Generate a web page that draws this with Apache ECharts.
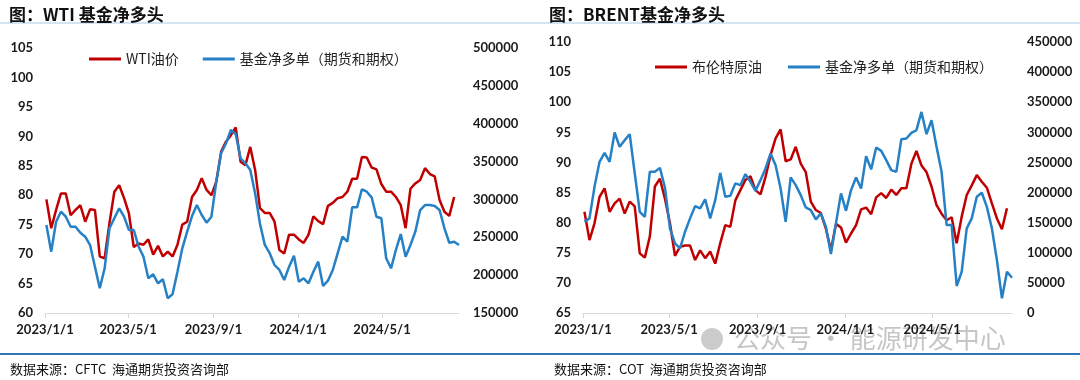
<!DOCTYPE html>
<html><head><meta charset="utf-8">
<script src="https://cdn.jsdelivr.net/npm/echarts@6/dist/echarts.min.js"></script>
<style>html,body{margin:0;padding:0;background:#fff}#c{width:1080px;height:380px}</style>
</head><body><div id="c"></div>
<script>
// weekly observation start and count
const startDate = [2023, 0, 3];
const weekCount = 86;
const tickDates = ['2023-01-01','2023-05-01','2023-09-01','2024-01-01','2024-05-01'];
const axisEnd = '2024-08-20';

const wtiPrice = [79.3,74.4,77.5,80.3,80.3,76.6,77.5,78.3,75.5,77.6,77.5,69.6,69.3,75.3,80.6,81.7,79.5,76.9,71.2,71.8,71.6,72.5,69.9,71.4,69.6,70.4,69.6,71.6,75.0,75.5,79.7,80.9,82.9,80.9,80.0,82.3,87.4,89.1,90.2,91.5,85.7,85.1,88.2,84.3,77.8,77.0,77.0,75.5,70.7,70.1,73.3,73.3,72.5,71.9,73.3,76.4,75.6,75.1,78.2,78.7,79.5,79.7,80.6,82.8,82.8,86.5,86.4,84.7,84.4,81.9,80.6,80.6,79.7,78.3,74.4,81.1,82.0,82.6,84.6,83.6,83.2,79.2,77.2,76.5,79.7];
const wtiNetLong = [266200,231000,270600,283800,277200,264000,264000,256000,250800,239800,211200,182600,209000,261900,275100,288300,277200,259600,259600,237600,224400,195800,201100,189200,194500,169400,175100,204500,235400,257400,278100,292600,279400,269300,277200,323400,360900,374100,391700,386400,354300,347700,338900,308100,268000,240000,229000,213400,206800,193600,211200,225700,191300,195800,189200,204500,217800,185700,192700,206800,228800,250800,244200,289600,289600,313400,310200,302800,277200,275100,222300,209000,233200,254300,224400,239800,257400,286000,292600,292600,291300,286000,261900,242800,244200,239800];
const brentPrice = [81.8,77.1,79.9,84.3,85.7,81.8,83.2,84.0,81.5,83.5,82.7,74.9,74.2,77.7,86.0,87.3,84.0,79.9,74.5,76.0,76.2,76.2,73.8,75.4,74.1,75.2,73.2,76.6,79.6,79.3,83.7,85.4,87.1,87.7,85.4,84.7,87.6,91.2,94.0,95.5,90.2,90.5,92.6,89.8,88.4,83.5,82.1,81.6,79.0,75.4,79.8,79.2,76.7,78.2,79.6,82.2,82.5,81.4,84.2,84.9,84.1,85.5,84.6,85.7,85.7,89.8,91.9,89.5,88.4,86.0,82.9,81.5,80.4,80.9,76.6,81.0,84.6,86.2,87.9,86.8,85.8,83.2,80.7,78.9,82.4];
const brentNetLong = [151400,157100,209500,251000,265900,251000,299700,275900,287000,296900,232000,168000,159700,234400,234400,241000,208500,140500,115600,107300,134900,157100,177500,173700,188600,157100,187400,232700,192900,194600,215200,212300,230600,217800,202900,220600,240000,264900,245500,206800,151400,225100,212300,195700,175300,170900,155400,165400,143200,97900,148800,198600,169700,204000,225100,206800,260400,238400,274900,269200,253800,237200,234400,288600,289800,299100,303600,333900,296900,320200,275900,234400,146000,146000,44800,68500,140500,157100,192900,199600,176300,140500,87900,24400,68500,58600];

function parseD(s){const p=s.split('-').map(Number);return new Date(p[0],p[1]-1,p[2]).getTime();}
const dates=[];
for(let i=0;i<weekCount;i++){dates.push(new Date(startDate[0],startDate[1],startDate[2]+7*i).getTime());}
const pair=(arr)=>arr.map((v,i)=>[dates[i],v]);
const ticks=tickDates.map(parseD);
const fmt=(v)=>{const d=new Date(v);return d.getFullYear()+'/'+(d.getMonth()+1)+'/'+d.getDate();};

const RED='#c00000', BLUE='#2580c5';
const numFont={fontFamily:'Lato',fontWeight:'bold',fontSize:13,color:'#1a1a1a'};
function xAx(gi){return {type:'value',gridIndex:gi,min:parseD('2023-01-01'),max:parseD(axisEnd),
  axisLine:{lineStyle:{color:'#d9d9d9',width:1}},
  axisTick:{show:true,customValues:ticks,length:5,lineStyle:{color:'#d9d9d9'}},
  axisLabel:Object.assign({customValues:ticks,formatter:fmt,margin:10,hideOverlap:false},numFont),
  splitLine:{show:false}};}
function yAx(gi,min,max,iv,pos,margin){return {type:'value',gridIndex:gi,min:min,max:max,interval:iv,position:pos,
  axisLine:{show:false},axisTick:{show:false},splitLine:{show:false},
  axisLabel:Object.assign({margin:margin,formatter:(v)=>String(v)},numFont)};}

const chart=echarts.init(document.getElementById('c'),null,{renderer:'canvas'});
chart.setOption({
  animation:false,
  textStyle:{fontFamily:'Noto Sans CJK SC'},
  title:[
    {text:'图：WTI 基金净多头',left:4,top:1,textStyle:{fontFamily:'Noto Sans CJK SC',fontSize:17,fontWeight:'bold',color:'#111'}},
    {text:'图：BRENT基金净多头',left:544,top:1,textStyle:{fontFamily:'Noto Sans CJK SC',fontSize:17,fontWeight:'bold',color:'#111'}},
    {text:'数据来源：CFTC  海通期货投资咨询部',left:5,top:358,textStyle:{fontFamily:'Noto Sans CJK SC',fontSize:13,fontWeight:'normal',color:'#111'}},
    {text:'数据来源：COT  海通期货投资咨询部',left:549,top:358,textStyle:{fontFamily:'Noto Sans CJK SC',fontSize:13,fontWeight:'normal',color:'#111'}}
  ],
  legend:[
    {left:84,top:47,itemWidth:32,itemHeight:3,itemGap:24,icon:'rect',data:['WTI油价','基金净多单（期货和期权）'],
     textStyle:{fontFamily:'Noto Sans CJK SC',fontSize:14,color:'#222'}},
    {left:650,top:55,itemWidth:32,itemHeight:3,itemGap:26,icon:'rect',data:['布伦特原油','基金净多单（期货和期权）'],
     textStyle:{fontFamily:'Noto Sans CJK SC',fontSize:14,color:'#222'}}
  ],
  grid:[
    {left:45,top:48,width:414,height:265},
    {left:583,top:42,width:429,height:271}
  ],
  xAxis:[xAx(0),xAx(1)],
  yAxis:[
    yAx(0,60,105,5,'left',12),
    yAx(0,150000,500000,50000,'right',14),
    yAx(1,65,110,5,'left',12),
    yAx(1,0,450000,50000,'right',15)
  ],
  graphic:[
    {type:'line',shape:{x1:0,y1:23,x2:1080,y2:23},style:{stroke:'#a8c8e8',lineWidth:1},silent:true},
    {type:'line',shape:{x1:0,y1:354,x2:1080,y2:354},style:{stroke:'#2e75b6',lineWidth:2},silent:true},
    {type:'circle',shape:{cx:712,cy:339,r:11},style:{fill:'rgba(160,160,160,0.55)'},silent:true},
    {type:'text',left:734,top:325,silent:true,z:-1,style:{text:'公众号 · 能源研发中心',fontFamily:'Noto Sans CJK SC',fontSize:26,fill:'rgba(150,150,150,0.55)'}}
  ],
  series:[
    {name:'WTI油价',type:'line',xAxisIndex:0,yAxisIndex:0,data:pair(wtiPrice),symbol:'none',lineStyle:{color:RED,width:2.5},itemStyle:{color:RED}},
    {name:'基金净多单（期货和期权）',type:'line',xAxisIndex:0,yAxisIndex:1,data:pair(wtiNetLong),symbol:'none',lineStyle:{color:BLUE,width:2.5},itemStyle:{color:BLUE}},
    {name:'布伦特原油',type:'line',xAxisIndex:1,yAxisIndex:2,data:pair(brentPrice),symbol:'none',lineStyle:{color:RED,width:2.5},itemStyle:{color:RED}},
    {name:'基金净多单（期货和期权）',type:'line',xAxisIndex:1,yAxisIndex:3,data:pair(brentNetLong),symbol:'none',lineStyle:{color:BLUE,width:2.5},itemStyle:{color:BLUE}}
  ]
});
</script></body></html>
